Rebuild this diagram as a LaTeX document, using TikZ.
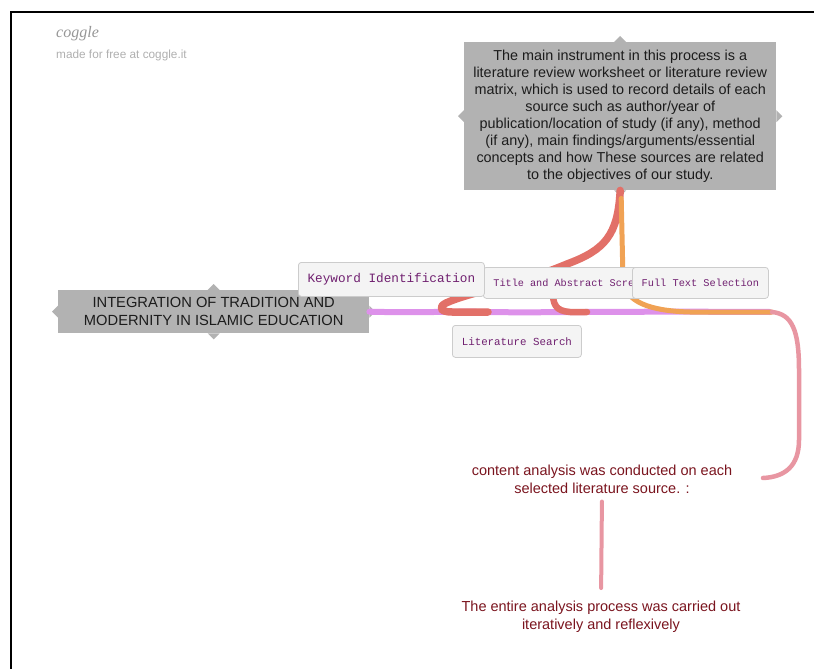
\documentclass[tikz,border=0pt]{standalone}
\usepackage{fontspec}
\setmainfont{Liberation Sans}
\setmonofont{Liberation Mono}
\newfontfamily\logofont{Liberation Serif}
\usetikzlibrary{calc}
\definecolor{boxgray}{RGB}{178,178,178}
\definecolor{nodefill}{RGB}{244,244,244}
\definecolor{nodeline}{RGB}{204,204,204}
\definecolor{purpletext}{RGB}{112,32,112}
\definecolor{darkred}{RGB}{122,20,30}
\definecolor{branchviolet}{RGB}{221,145,234}
\definecolor{branchred}{RGB}{226,112,104}
\definecolor{branchorange}{RGB}{240,162,84}
\definecolor{branchpink}{RGB}{232,150,162}
\definecolor{logogray}{RGB}{175,175,175}
\definecolor{logodark}{RGB}{150,150,150}
\definecolor{textdark}{RGB}{28,28,28}
\begin{document}
\begin{tikzpicture}[x=1pt,y=-1pt,
  graybox/.style={fill=boxgray, inner sep=0pt, align=center, text=textdark, anchor=north west},
  leafbox/.style={fill=nodefill, draw=nodeline, line width=0.8pt, rounded corners=3pt, text=purpletext, anchor=north west, inner sep=0pt},
  note/.style={text=darkred, align=center, inner sep=0pt, font=\fontsize{14.5}{18}\selectfont},
  branch/.style={line cap=round, line join=round},
  notch/.style={fill=boxgray}]
\useasboundingbox (0,0) rectangle (814,669);
% frame
\draw[line width=2pt] (11,669) -- (11,12) -- (814,12);
% logo
\node[anchor=west, inner sep=0pt, text=logodark, font=\logofont\itshape\fontsize{16}{18}\selectfont] (logo) at (56,34) {coggle};
\node[anchor=west, inner sep=0pt, text=logogray, font=\fontsize{11.8}{14}\selectfont] (madefor) at (56,55) {made for free at coggle.it};

% nodes (positions)
\coordinate (mainnw) at (464,42);
\coordinate (rootnw) at (58,290);

% coordinates for connectors
\coordinate (r1a) at (567,264);
\coordinate (r1b) at (446,303);
\coordinate (r1c) at (488,312);
\coordinate (r2s) at (553,288);
\coordinate (r2e) at (587,312);
\coordinate (oa) at (623,280);
\coordinate (ob) at (690,312);
\coordinate (oe) at (772,312);
\coordinate (pa) at (799,370);
\coordinate (pb) at (799,440);
\coordinate (pe) at (763,478);
\coordinate (ve) at (770,312);

% main box
\node[graybox, minimum width=312pt, minimum height=148pt, font=\fontsize{14.4}{17.1}\selectfont] (main) at (mainnw)
 {The main instrument in this process is a\\literature review worksheet or literature review\\matrix, which is used to record details of each\\source such as author/year of\\publication/location of study (if any), method\\(if any), main findings/arguments/essential\\concepts and how These sources are related\\to the objectives of our study.};
\fill[notch] ($(main.north)+(-6,0)$) -- ++(6,-6) -- ++(6,6) -- cycle;
\fill[notch] ($(main.west)+(0,-6)$) -- ++(-6,6) -- ++(6,6) -- cycle;
\fill[notch] ($(main.east)+(0,-6)$) -- ++(6,6) -- ++(-6,6) -- cycle;
\fill[notch] ($(main.south)+(-6,0)$) -- ++(6,6) -- ++(6,-6) -- cycle;

% root
\node[graybox, minimum width=311pt, minimum height=43pt, font=\fontsize{14.7}{18}\selectfont] (root) at (rootnw)
 {INTEGRATION OF TRADITION AND\\MODERNITY IN ISLAMIC EDUCATION};
\fill[notch] ($(root.north)+(-6,0)$) -- ++(6,-6) -- ++(6,6) -- cycle;
\fill[notch] ($(root.west)+(0,-6)$) -- ++(-6,6) -- ++(6,6) -- cycle;
\fill[notch] ($(root.east)+(0,-6)$) -- ++(6,6) -- ++(-6,6) -- cycle;
\fill[notch] ($(root.south)+(-6,0)$) -- ++(6,6) -- ++(6,-6) -- cycle;

% branches
\draw[branch, branchviolet, line width=6pt] (root.east) .. controls (420,313) and (460,311) .. (r1c) .. controls (540,313) and (600,311) .. (ve);
\draw[branch, branchred, line width=7.5pt] (main.south) .. controls (618,235) and (605,250) .. (r1a) .. controls (520,284) and (470,292) .. (r1b) .. controls (438,307) and (440,312) .. (452,312) -- (r1c);
\draw[branch, branchred, line width=6.5pt] (r2s) .. controls (552,305) and (556,311) .. (570,312) -- (r2e);
\draw[branch, branchorange, line width=5pt] ($(main.south)+(1,8)$) -- (oa) .. controls (625,302) and (650,311) .. (ob) -- (oe);
\draw[branch, branchpink, line width=4.5pt] (oe) .. controls (792,314) and (799,330) .. (pa) -- (pb) .. controls (799,466) and (785,477) .. (pe);

% leaf nodes
\node[leafbox, minimum height=31pt, inner xsep=10pt, font=\ttfamily\fontsize{10.2}{12}\selectfont] (title) at (483,267) {Title and Abstract Scre};
\node[leafbox, minimum width=186pt, minimum height=34pt, font=\ttfamily\fontsize{12.7}{15}\selectfont] (keyword) at (298,262) {Keyword Identification};
\node[leafbox, minimum width=136pt, minimum height=31pt, font=\ttfamily\fontsize{10.3}{12}\selectfont] (fulltext) at (632,267) {Full Text Selection};
\node[leafbox, minimum width=129pt, minimum height=32pt, font=\ttfamily\fontsize{10.8}{13}\selectfont] (litsearch) at (452,325) {Literature Search};

% notes
\node[note] (note1) at (602,479) {content analysis was conducted on each\\selected literature source. :};
\node[note] (note2) at (601,617) {The entire analysis process was carried out\\iteratively and reflexively};
\draw[branch, branchpink, line width=4pt, shorten <=8pt, shorten >=13pt] (note1.south) -- (note2.north);
\end{tikzpicture}
\end{document}
